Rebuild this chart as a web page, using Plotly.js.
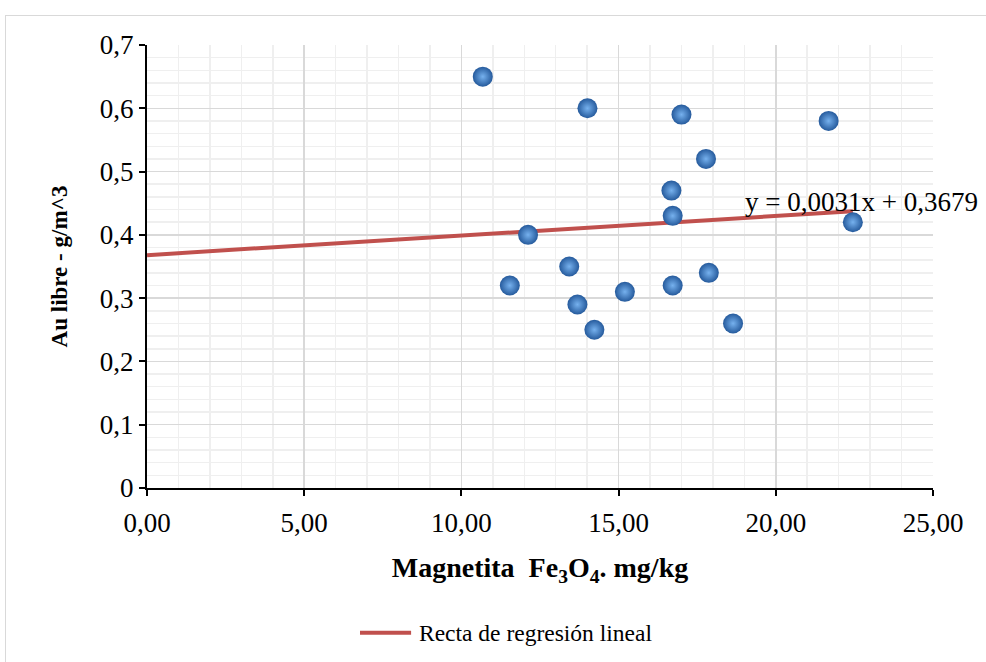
<!DOCTYPE html>
<html>
<head>
<meta charset="utf-8">
<script src="https://cdn.plot.ly/plotly-3.0.1.min.js"></script>
<style>
html,body{margin:0;padding:0;background:#fff;overflow:hidden;}
#frame{position:absolute;left:5px;top:15px;width:1000px;height:700px;border:1px solid #d9d9d9;box-sizing:border-box;}
#chart{position:absolute;left:0;top:0;width:986px;height:662px;}
</style>
</head>
<body>
<div id="frame"></div>
<div id="chart"></div>
<script>
// Data
const magnetita = [10.68, 14.01, 17.00, 21.68, 17.78, 16.68, 16.72, 22.45, 12.12, 13.43, 11.54, 13.69, 15.20, 16.72, 17.87, 14.23, 18.64];
const auLibre   = [0.65, 0.60, 0.59, 0.58, 0.52, 0.47, 0.43, 0.42, 0.40, 0.35, 0.32, 0.29, 0.31, 0.32, 0.34, 0.25, 0.26];
const slope = 0.0031;
const intercept = 0.3679;
const xTickVals = [0, 5, 10, 15, 20, 25];
const xTickText = ["0,00", "5,00", "10,00", "15,00", "20,00", "25,00"];
const yTickVals = [0, 0.1, 0.2, 0.3, 0.4, 0.5, 0.6, 0.7];
const yTickText = ["0", "0,1", "0,2", "0,3", "0,4", "0,5", "0,6", "0,7"];
const legendLabel = "Recta de regresión lineal";
const equationText = "y = 0,0031x + 0,3679";

const trendX = [0, Math.max(...magnetita)];
const trendY = trendX.map(v => slope * v + intercept);

const serif = "Liberation Serif";
const trendColor = "#C0504D";

const traces = [
  {
    x: trendX, y: trendY, mode: "lines", type: "scatter",
    name: legendLabel,
    line: {color: trendColor, width: 4},
    showlegend: false
  },
  {
    x: magnetita, y: auLibre, mode: "markers", type: "scatter",
    showlegend: false,
    marker: {
      size: 20,
      color: "#255a9c",
      gradient: {type: "radial", color: "#76b1ee"},
      line: {width: 0}
    }
  }
];

const layout = {
  width: 986, height: 662,
  margin: {l: 147, r: 53, t: 45, b: 174},
  paper_bgcolor: "rgba(0,0,0,0)",
  plot_bgcolor: "#ffffff",
  font: {family: serif, color: "#000", size: 26},
  showlegend: false,
  xaxis: {
    range: [0, 25], tickvals: xTickVals, ticktext: xTickText,
    automargin: false,
    showline: true, linecolor: "#000", linewidth: 2,
    ticks: "outside", ticklen: 6, tickwidth: 2, tickcolor: "#000",
    showgrid: true, gridcolor: "#d9d9d9", gridwidth: 1.5,
    minor: {dtick: 1, showgrid: true, gridcolor: "#efefef", gridwidth: 1.5},
    zeroline: false,
    ticklabelstandoff: 4,
    tickfont: {family: serif, size: 27, color: "#000"},
    title: {text: "<b>Magnetita  Fe<sub>3</sub>O<sub>4</sub>. mg/kg</b>", font: {family: serif, size: 28, color: "#000"}, standoff: 20}
  },
  yaxis: {
    range: [0, 0.7], tickvals: yTickVals, ticktext: yTickText,
    automargin: false,
    showline: true, linecolor: "#000", linewidth: 2,
    ticks: "outside", ticklen: 6, tickwidth: 2, tickcolor: "#000",
    showgrid: true, gridcolor: "#d9d9d9", gridwidth: 1.5,
    minor: {dtick: 0.02, showgrid: true, gridcolor: "#efefef", gridwidth: 1.5},
    zeroline: false,
    tickfont: {family: serif, size: 27, color: "#000"},
    title: {text: "<b>Au libre - g/m^3</b>", font: {family: serif, size: 23, color: "#000"}, standoff: 26}
  },
  shapes: [
    {
      type: "line", xref: "paper", yref: "paper",
      x0: 0.271, x1: 0.336, y0: -0.327, y1: -0.327,
      line: {color: trendColor, width: 4}
    }
  ],
  annotations: [
    {
      x: 18.95, y: 0.452, xref: "x", yref: "y", xanchor: "left", yanchor: "middle",
      text: equationText, showarrow: false,
      font: {family: serif, size: 27, color: "#000"}
    },
    {
      x: 0.3435, y: -0.327, xref: "paper", yref: "paper", xanchor: "left", yanchor: "middle",
      text: legendLabel, showarrow: false,
      font: {family: serif, size: 23.5, color: "#000"}
    }
  ]
};

Plotly.newPlot("chart", traces, layout, {displayModeBar: false, staticPlot: true});
</script>
</body>
</html>
